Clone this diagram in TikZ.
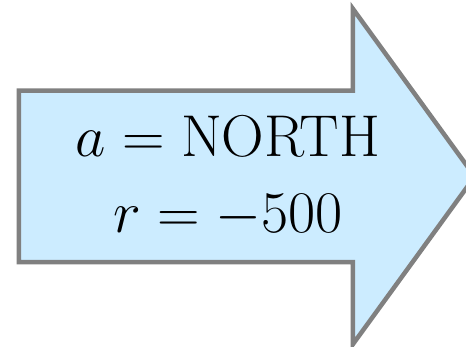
\RequirePackage{fix-cm}
\documentclass[tikz,border=0pt]{standalone}
\usetikzlibrary{shapes.arrows}

\definecolor{arrowfill}{RGB}{204,236,255}
\definecolor{arrowline}{RGB}{128,128,128}

\begin{document}
\begin{tikzpicture}[
    x=1pt, y=-1pt,
    bigarrow/.style={single arrow, draw=arrowline, fill=arrowfill, line width=4.5pt,
        minimum height=456pt, minimum width=331pt, inner xsep=0pt, inner ysep=83.5pt,
        single arrow tip angle=108, single arrow head extend=82pt},
    movetext/.style={align=center, inner sep=0pt, font=\fontsize{59}{76}\selectfont}
]
\useasboundingbox (0,0) rectangle (466,347);
\node[bigarrow, anchor=tail] (move) at (16.5,176.5) {};
\node[movetext] (label) at (228,177) {$a=\mathrm{NORTH}$\\$r=-500$};
\end{tikzpicture}
\end{document}
